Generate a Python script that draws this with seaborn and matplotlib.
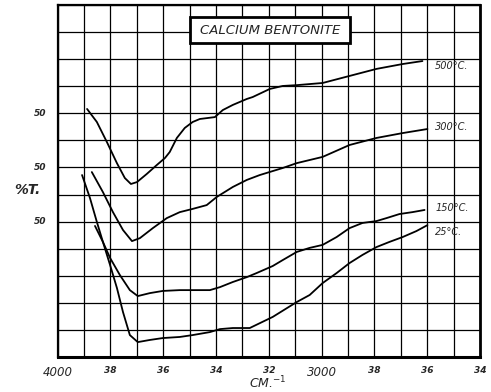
import matplotlib
matplotlib.use("Agg")
import matplotlib.pyplot as plt
import matplotlib.transforms as mtransforms
import seaborn as sns
from matplotlib.patches import Rectangle

# wavenumber (cm^-1) and transmission (chart units, grid every 10)
wn_500 = [3888, 3851, 3813, 3775, 3745, 3722, 3699, 3662, 3624, 3593, 3575, 3548, 3518, 3488,
          3461, 3404, 3374, 3336, 3283, 3261, 3196, 3147, 3094, 2996, 2894, 2792, 2693, 2618]
t_500 = [91.6, 86.8, 79.4, 71.6, 66.1, 63.9, 64.6, 67.6, 70.9, 73.5, 75.7, 80.9, 84.6, 86.8,
         87.9, 88.6, 91.2, 93.1, 95.3, 96.0, 99.0, 100.1, 100.4, 101.2, 103.8, 106.4, 108.2, 109.3]

wn_300 = [3870, 3828, 3790, 3752, 3718, 3688, 3639, 3586, 3537, 3488, 3435, 3397, 3336, 3283,
          3234, 3147, 3094, 2996, 2894, 2792, 2693, 2599]
t_300 = [68.3, 60.9, 53.5, 46.9, 42.8, 43.9, 47.6, 51.3, 53.5, 54.7, 56.1, 59.1, 62.8, 65.4,
         67.2, 69.8, 71.6, 73.9, 78.3, 80.9, 82.7, 84.2]

wn_150 = [3907, 3877, 3851, 3828, 3801, 3764, 3726, 3696, 3650, 3601, 3537, 3461, 3423, 3385,
          3336, 3283, 3246, 3185, 3147, 3094, 3045, 2996, 2943, 2894, 2845, 2792, 2754, 2705,
          2656, 2610]
t_150 = [67.2, 58.7, 49.9, 42.5, 36.6, 30.3, 24.7, 22.5, 23.6, 24.4, 24.7, 24.7, 24.7, 25.8,
         27.7, 29.5, 31.0, 33.6, 35.8, 38.8, 40.3, 41.4, 44.3, 47.6, 49.5, 50.2, 51.3, 52.8,
         53.5, 54.3]

wn_25 = [3858, 3828, 3801, 3775, 3752, 3726, 3696, 3650, 3601, 3537, 3488, 3423, 3385, 3336,
         3272, 3185, 3094, 3045, 2996, 2943, 2894, 2845, 2792, 2743, 2693, 2641, 2599]
t_25 = [48.4, 42.5, 34.0, 25.5, 16.6, 8.1, 5.5, 6.3, 7.0, 7.4, 8.1, 9.2, 10.3, 10.7,
        10.7, 14.8, 20.3, 22.9, 27.3, 31.0, 34.7, 37.7, 40.6, 42.5, 44.3, 46.5, 48.7]

series_labels = ["500°C.", "300°C.", "150°C.", "25°C."]
x_tick_vals = [4000, 3800, 3600, 3400, 3200, 3000, 2800, 2600, 2400]
x_tick_labels = ["4000", "38", "36", "34", "32", "3000", "38", "36", "34"]
y_tick_vals = [50, 70, 90]
y_tick_labels = ["50", "50", "50"]
title = "CALCIUM BENTONITE"

sns.set_style("white")
plt.rcParams['font.family'] = ['DejaVu Sans']

fig = plt.figure(figsize=(4.91, 3.92), dpi=100)
ax = fig.add_axes([57.5/491, 1-357/392, (480-57.5)/491, (357-5)/392])

curves = [(wn_500, t_500), (wn_300, t_300), (wn_150, t_150), (wn_25, t_25)]
for (wn, t) in curves:
    sns.lineplot(x=wn, y=t, color="black", lw=1.3, sort=False, ax=ax)

ax.set_xlim(4000, 2400)
ax.set_ylim(0, 130)
ax.set_xticks(list(range(2400, 4001, 100)))
ax.set_xticklabels([])
ax.set_yticks(list(range(0, 131, 10)))
ax.set_yticklabels([])
ax.tick_params(length=0)
ax.grid(True, color="black", lw=0.9)
for s in ax.spines.values():
    s.set_color("black")
    s.set_linewidth(1.6)
ax.spines["right"].set_linewidth(2.0)
ax.spines["bottom"].set_linewidth(2.2)
ax.set_xlabel("")
ax.set_ylabel("")

# x tick labels
for v, lab in zip(x_tick_vals, x_tick_labels):
    big = lab in ("4000", "3000")
    ax.text(v, -3.5, lab, ha="center", va="top",
            fontsize=8.5 if big else 6.5, style="italic",
            fontweight="normal" if big else "bold")

# y tick labels (left of the axes)
ytrans = mtransforms.blended_transform_factory(fig.transFigure, ax.transData)
for v, lab in zip(y_tick_vals, y_tick_labels):
    ax.text(40/491, v, lab, ha="center", va="center", fontsize=6.5,
            style="italic", fontweight="bold", transform=ytrans)

fig.text(27/491, 1-190/392, "%T.", ha="center", va="center", fontsize=10,
         style="italic", fontweight="bold")
fig.text(268/491, 1-383/392, "CM.$^{-1}$", ha="center", va="center", fontsize=9, style="italic")

# curve labels
label_y = [107.5, 85, 55, 46]
for lab, ly in zip(series_labels, label_y):
    ax.text(2570, ly, lab, ha="left", va="center", fontsize=7, style="italic")

# title box
bx0, bx1 = 190/491, 350/491
by0, by1 = 1-43/392, 1-17/392
box = Rectangle((bx0, by0), bx1-bx0, by1-by0, transform=fig.transFigure,
                facecolor="white", edgecolor="black", lw=2.0, zorder=5)
fig.patches.append(box)
fig.text((bx0+bx1)/2, (by0+by1)/2, title, ha="center", va="center", fontsize=9.5,
         style="italic", zorder=6)

fig.savefig("out.png", dpi=100)
